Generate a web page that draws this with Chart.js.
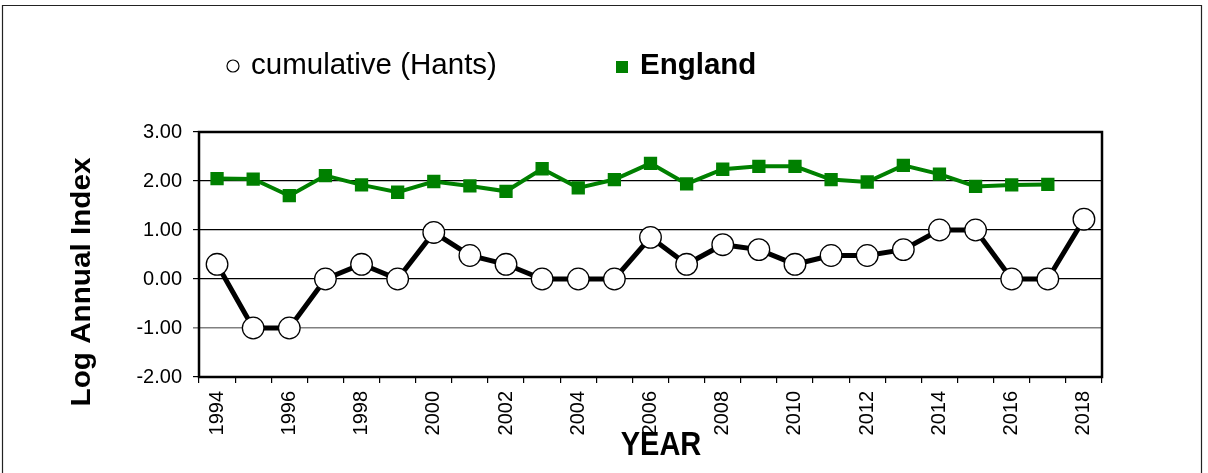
<!DOCTYPE html>
<html>
<head>
<meta charset="utf-8">
<script src="https://cdn.jsdelivr.net/npm/chart.js@4/dist/chart.umd.min.js"></script>
<style>
html,body{margin:0;padding:0;background:#fff;}
#wrap{position:relative;width:1208px;height:473px;}
</style>
</head>
<body>
<div id="wrap"><canvas id="c" width="1208" height="473"></canvas></div>
<script>
const years = ['1994','1995','1996','1997','1998','1999','2000','2001','2002','2003','2004','2005','2006','2007','2008','2009','2010','2011','2012','2013','2014','2015','2016','2017','2018'];
const hantsCumulative = [0.30,-1.00,-1.00,0.00,0.30,0.00,0.95,0.48,0.30,0.00,0.00,0.00,0.85,0.30,0.70,0.60,0.30,0.48,0.48,0.60,1.00,1.00,0.00,0.00,1.22];
const england = [2.05,2.04,1.70,2.11,1.92,1.77,1.99,1.90,1.79,2.25,1.86,2.03,2.36,1.94,2.24,2.30,2.30,2.03,1.98,2.32,2.14,1.89,1.92,1.93,null];
const yTickValues = [-2,-1,0,1,2,3];
const legendLabels = ['cumulative (Hants)','England'];
const yTitle = 'Log Annual Index';
const xTitle = 'YEAR';

const FONT = "'Liberation Sans', Arial, sans-serif";

const decor = {
  id: 'decor',
  beforeDraw(chart) {
    const ctx = chart.ctx;
    ctx.save();
    ctx.fillStyle = '#fff';
    ctx.fillRect(0, 0, chart.width, chart.height);
    ctx.strokeStyle = '#222';
    ctx.lineWidth = 1.2;
    ctx.beginPath();
    ctx.moveTo(2.5, 480); ctx.lineTo(2.5, 5.5); ctx.lineTo(1201.5, 5.5); ctx.lineTo(1201.5, 480);
    ctx.stroke();
    ctx.restore();
  },
  afterDraw(chart) {
    const ctx = chart.ctx;
    const a = chart.chartArea;
    ctx.save();
    // plot frame
    ctx.strokeStyle = '#000';
    ctx.lineWidth = 2.5;
    ctx.strokeRect(a.left, a.top, a.right - a.left, a.bottom - a.top);
    // legend
    ctx.textBaseline = 'middle';
    ctx.textAlign = 'left';
    ctx.beginPath();
    ctx.arc(233, 66, 6, 0, Math.PI * 2);
    ctx.fillStyle = '#fff';
    ctx.fill();
    ctx.lineWidth = 1.2;
    ctx.strokeStyle = '#000';
    ctx.stroke();
    ctx.fillStyle = '#000';
    ctx.font = '29.5px ' + FONT;
    ctx.fillText(legendLabels[0], 251, 66);
    ctx.fillStyle = '#008000';
    ctx.fillRect(616, 61, 12, 12);
    ctx.fillStyle = '#000';
    ctx.font = 'bold 29.5px ' + FONT;
    ctx.fillText(legendLabels[1], 640, 66);
    // y title
    ctx.save();
    ctx.font = 'bold 28px ' + FONT;
    const w = ctx.measureText(yTitle).width;
    ctx.translate(82, 282);
    ctx.rotate(-Math.PI / 2);
    ctx.scale(249 / w, 1);
    ctx.textAlign = 'center';
    ctx.fillText(yTitle, 0, 0);
    ctx.restore();
    // x title
    ctx.save();
    ctx.translate(661, 446);
    ctx.scale(0.88, 1);
    ctx.textAlign = 'center';
    ctx.font = 'bold 33px ' + FONT;
    ctx.fillText(xTitle, 0, 0);
    ctx.restore();
    ctx.restore();
  }
};

new Chart(document.getElementById('c'), {
  type: 'line',
  data: {
    labels: years,
    datasets: [
      {
        label: legendLabels[0],
        data: hantsCumulative,
        borderColor: '#000',
        borderWidth: 5,
        pointRadius: 10.8,
        pointHoverRadius: 10.8,
        pointBackgroundColor: '#fff',
        pointBorderColor: '#000',
        pointBorderWidth: 1.3,
        tension: 0
      },
      {
        label: legendLabels[1],
        data: england,
        borderColor: '#008000',
        borderWidth: 4,
        pointStyle: 'rect',
        pointRadius: 9.4,
        pointHoverRadius: 9.4,
        pointBackgroundColor: '#008000',
        pointBorderColor: '#008000',
        pointBorderWidth: 0,
        tension: 0
      }
    ]
  },
  options: {
    responsive: false,
    animation: false,
    events: [],
    layout: { padding: { left: 0, right: 106, top: 132, bottom: 0 } },
    plugins: { legend: { display: false }, tooltip: { enabled: false } },
    scales: {
      x: {
        offset: true,
        afterFit(s) { s.height = 96; },
        grid: { offset: true, drawOnChartArea: false, drawTicks: true, tickLength: 6, color: '#000', lineWidth: 1.2 },
        border: { display: false },
        ticks: {
          autoSkip: false,
          minRotation: 90,
          maxRotation: 90,
          padding: 8,
          color: '#000',
          font: { family: FONT, size: 20 },
          callback(v, i) { return i % 2 === 0 ? years[i] : ''; }
        }
      },
      y: {
        min: -2,
        max: 3,
        afterFit(s) { s.width = 199; },
        afterBuildTicks(s) { s.ticks = yTickValues.map(v => ({ value: v })); },
        grid: {
          drawTicks: true,
          tickLength: 6,
          color(c) { return c.tick && c.tick.value === -1 ? '#808080' : '#000'; },
          lineWidth(c) { return c.tick && c.tick.value === -1 ? 1.6 : 1.2; }
        },
        border: { display: false },
        ticks: {
          padding: 11,
          color: '#000',
          font: { family: FONT, size: 20 },
          callback(v) { return Number(v).toFixed(2); }
        }
      }
    }
  },
  plugins: [decor]
});
</script>
</body>
</html>
